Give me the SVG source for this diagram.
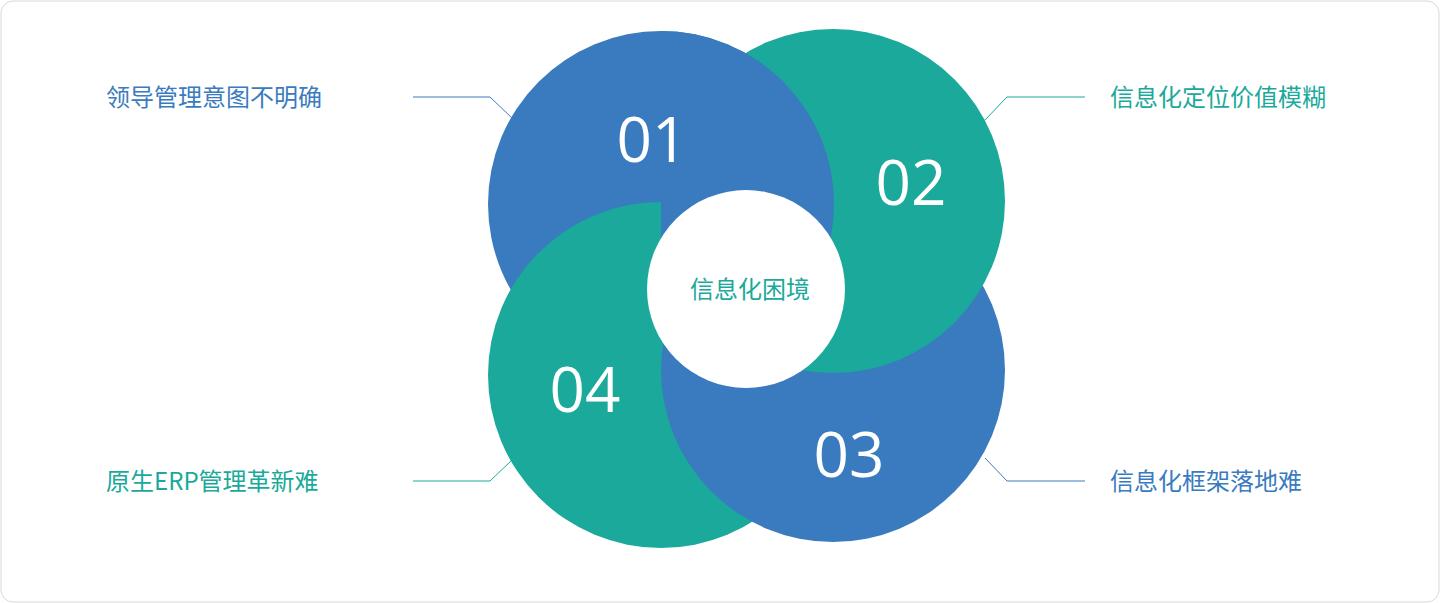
<svg xmlns="http://www.w3.org/2000/svg" width="1440" height="603" viewBox="0 0 1440 603">
<style>
.b{fill:#3a7bbf}.t{fill:#1aa99a}
.num{font-family:"Open Sans","Noto Sans",sans-serif;font-size:62px;fill:#fff;text-anchor:middle}
.lbl{font-family:"Noto Sans CJK SC","Noto Sans",sans-serif;font-size:24px}
.lb{fill:#3a7bbf}.lt{fill:#1aa99a}
</style>
<defs><clipPath id="c1"><rect x="661" y="0" width="400" height="290"/></clipPath></defs>
<rect x="1" y="1" width="1438" height="601" rx="12" fill="#fff" stroke="#d9d9d9"/>
<g id="connectors" fill="none" stroke-width="1">
<polyline points="413,97 490,97 512,118" stroke="#3a7bbf"/>
<polyline points="1085,97 1007,97 985,120" stroke="#1aa99a"/>
<polyline points="1085,481 1007,481 985,458" stroke="#3a7bbf"/>
<polyline points="413,481 490,481 512,460" stroke="#1aa99a"/>
</g>
<g id="circles">
<circle class="b" cx="661" cy="204" r="173"/>
<circle class="t" cx="661" cy="375" r="173"/>
<circle class="b" cx="833" cy="370" r="172"/>
<circle class="t" cx="833" cy="201" r="172"/>
<circle class="b" cx="661" cy="204" r="173" clip-path="url(#c1)"/>
</g>
<g id="n01"><text class="num" x="652" y="162">01</text><text class="lbl lb" x="106" y="106">领导管理意图不明确</text></g>
<g id="n02"><text class="num" x="911" y="205">02</text><text class="lbl lt" x="1110" y="106">信息化定位价值模糊</text></g>
<g id="n03"><text class="num" x="849" y="477">03</text><text class="lbl lb" x="1110" y="490">信息化框架落地难</text></g>
<g id="n04"><text class="num" x="585" y="412">04</text><text class="lbl lt" x="106" y="490">原生ERP管理革新难</text></g>
<g id="center"><circle cx="746" cy="289" r="99" fill="#fff"/>
<text class="lbl lt" x="750" y="298" text-anchor="middle">信息化困境</text></g>
</svg>
